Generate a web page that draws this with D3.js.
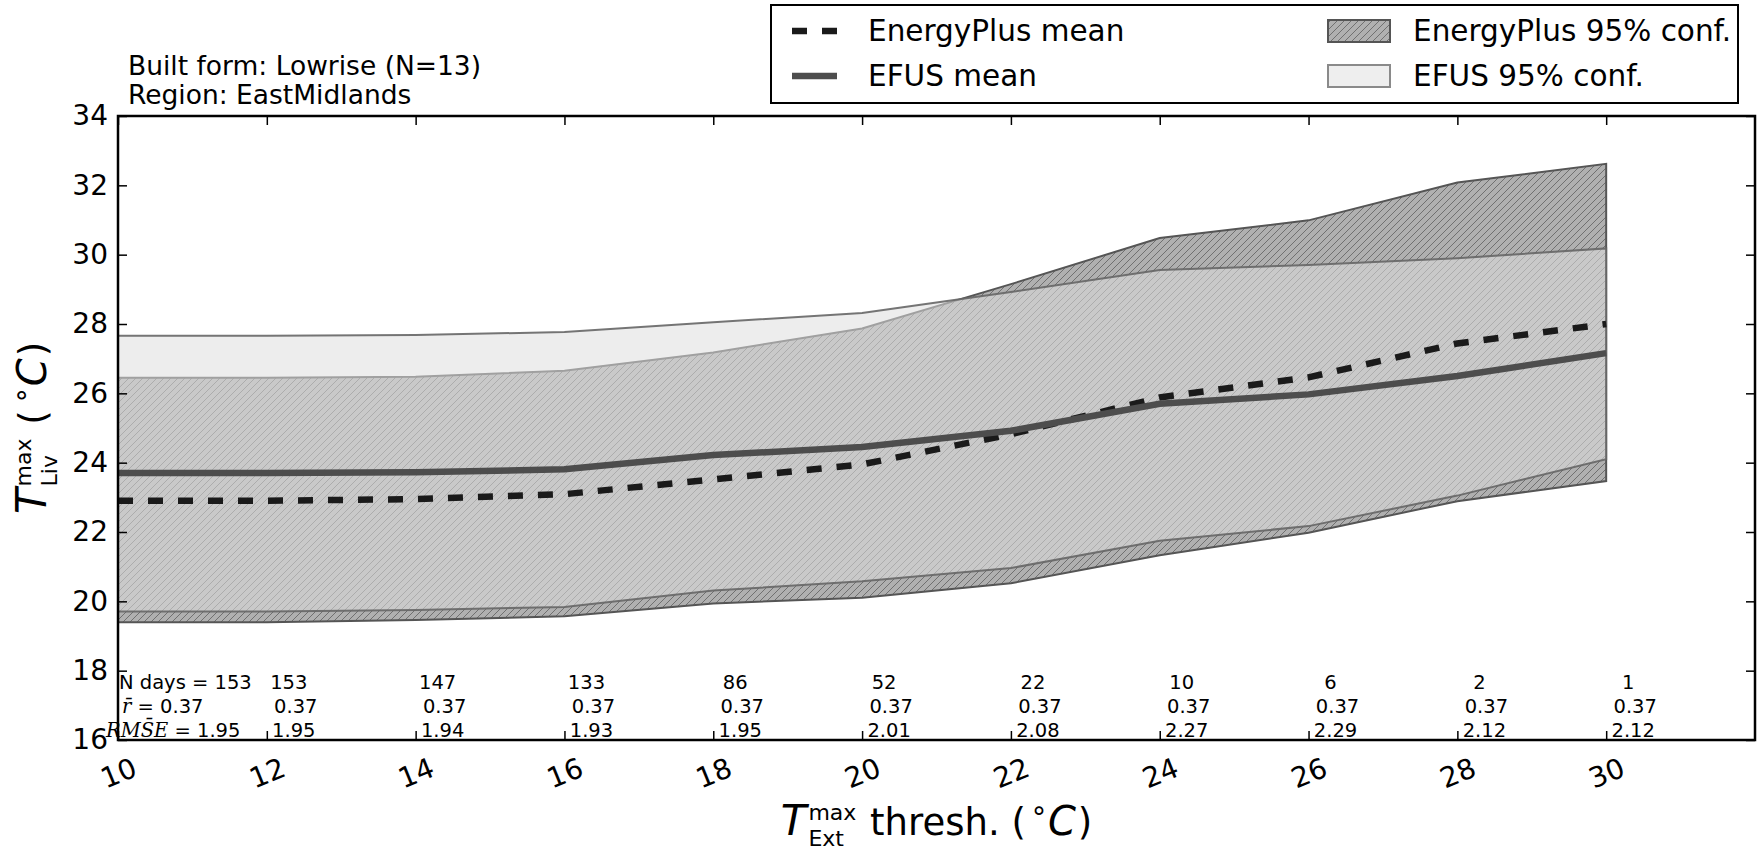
<!DOCTYPE html>
<html>
<head>
<meta charset="utf-8">
<script src="https://cdn.jsdelivr.net/npm/d3@7"></script>
<style>
  body { margin: 0; background: #fff; }
  text { font-family: "DejaVu Sans", sans-serif; fill: #000; }
</style>
</head>
<body>
<div id="viz"></div>
<script>
// data
const thresholds = [10, 12, 14, 16, 18, 20, 22, 24, 26, 28, 30];
const epMean   = [22.90, 22.90, 22.95, 23.09, 23.52, 23.95, 24.82, 25.88, 26.46, 27.44, 28.00];
const epLow    = [19.40, 19.40, 19.46, 19.57, 19.94, 20.10, 20.52, 21.33, 21.98, 22.89, 23.47];
const epHigh   = [26.45, 26.45, 26.48, 26.65, 27.18, 27.87, 29.15, 30.48, 30.99, 32.08, 32.62];
const efusMean = [23.70, 23.70, 23.72, 23.81, 24.22, 24.45, 24.92, 25.70, 25.97, 26.50, 27.16];
const efusLow  = [19.71, 19.71, 19.75, 19.84, 20.31, 20.58, 20.96, 21.75, 22.17, 23.05, 24.10];
const efusHigh = [27.66, 27.66, 27.68, 27.77, 28.05, 28.32, 28.92, 29.56, 29.70, 29.90, 30.18];
const nDays = [153, 153, 147, 133, 86, 52, 22, 10, 6, 2, 1];
const rBar  = [0.37, 0.37, 0.37, 0.37, 0.37, 0.37, 0.37, 0.37, 0.37, 0.37, 0.37];
const rmse  = [1.95, 1.95, 1.94, 1.93, 1.95, 2.01, 2.08, 2.27, 2.29, 2.12, 2.12];
const xTicks = [10, 12, 14, 16, 18, 20, 22, 24, 26, 28, 30];
const yTicks = [16, 18, 20, 22, 24, 26, 28, 30, 32, 34];

const svg = d3.select('#viz')
    .append('svg')
    .attr('width', 1758)
    .attr('height', 850);

const margin = {top: 116, right: 3, bottom: 110, left: 118},
    width = 1758 - margin.left - margin.right,
    height = 850 - margin.top - margin.bottom;

const x = d3.scaleLinear().domain([10, 32]).range([0, width]);
const y = d3.scaleLinear().domain([16, 34]).range([height, 0]);

// hatch for the EnergyPlus band
const defs = svg.append('defs');
const hatch = defs.append('pattern')
    .attr('id', 'hatch')
    .attr('patternUnits', 'userSpaceOnUse')
    .attr('width', 7).attr('height', 7);
hatch.append('rect').attr('width', 7).attr('height', 7).attr('fill', '#b0b0b0');
hatch.append('path')
    .attr('d', 'M-1,1 l2,-2 M0,7 l7,-7 M6,8 l2,-2')
    .attr('stroke', '#707070').attr('stroke-width', 1);

const g = svg.append('g')
    .attr('transform', 'translate(' + margin.left + ',' + margin.top + ')');

const idx = d3.range(thresholds.length);
const band = (lo, hi) => d3.area()
    .x(i => x(thresholds[i]))
    .y0(i => y(lo[i]))
    .y1(i => y(hi[i]));

// EnergyPlus 95% conf.
g.append('path')
    .datum(idx)
    .attr('d', band(epLow, epHigh))
    .attr('fill', 'url(#hatch)')
    .attr('stroke', '#555')
    .attr('stroke-width', 2);

// EFUS 95% conf. (semi transparent, on top)
g.append('path')
    .datum(idx)
    .attr('d', band(efusLow, efusHigh))
    .attr('fill', '#dfdfdf')
    .attr('fill-opacity', 0.55)
    .attr('stroke', '#666')
    .attr('stroke-opacity', 0.9)
    .attr('stroke-width', 2);

const line = vals => d3.line()
    .x(i => x(thresholds[i]))
    .y(i => y(vals[i]));

g.append('path')
    .datum(idx)
    .attr('d', line(epMean))
    .attr('fill', 'none')
    .attr('stroke', '#1a1a1a')
    .attr('stroke-width', 6.5)
    .attr('stroke-dasharray', '15,15');

g.append('path')
    .datum(idx)
    .attr('d', line(efusMean))
    .attr('fill', 'none')
    .attr('stroke', '#4d4d4d')
    .attr('stroke-width', 6.5);

// axes, ticks pointing inward
const xAxis = g.append('g')
    .attr('transform', 'translate(0,' + height + ')')
    .call(d3.axisBottom(x).tickValues(xTicks).tickSizeInner(-9).tickSizeOuter(0).tickPadding(0));
xAxis.selectAll('text')
    .attr('y', 0).attr('dy', '0.35em')
    .attr('transform', 'translate(0,33) rotate(-22)')
    .style('text-anchor', 'middle');

g.append('g')
    .call(d3.axisTop(x).tickValues(xTicks).tickSizeInner(-9).tickSizeOuter(0).tickFormat(''));

g.append('g')
    .call(d3.axisLeft(y).tickValues(yTicks).tickSizeInner(-9).tickSizeOuter(0).tickPadding(10));

g.append('g')
    .attr('transform', 'translate(' + width + ',0)')
    .call(d3.axisRight(y).tickValues(yTicks).tickSizeInner(-9).tickSizeOuter(0).tickFormat(''));

g.selectAll('.domain').remove();
g.selectAll('.tick line').attr('stroke', '#000').attr('stroke-width', 1.5);
g.selectAll('.tick text').attr('font-size', 28).attr('font-family', '"DejaVu Sans", sans-serif').attr('fill', '#000');

g.append('rect')
    .attr('width', width).attr('height', height)
    .attr('fill', 'none').attr('stroke', '#000').attr('stroke-width', 2.5);

// per-threshold annotations along the bottom
const ann = g.append('g').attr('font-size', 19.5);
thresholds.forEach((t, i) => {
    if (i === 0) {
        ann.append('text').attr('x', x(t) + 1).attr('y', height - 51).text('N days = ' + nDays[i]);
        const r = ann.append('text').attr('x', x(t) + 4).attr('y', height - 27);
        r.append('tspan').attr('font-family', '"DejaVu Serif", serif').attr('font-style', 'italic').text('r\u0304');
        r.append('tspan').text(' = ' + rBar[i].toFixed(2));
        const e = ann.append('text').attr('x', x(t) - 12).attr('y', height - 3);
        e.append('tspan').attr('font-family', '"DejaVu Serif", serif').attr('font-style', 'italic').text('RMS\u0304E');
        e.append('tspan').text(' = ' + rmse[i].toFixed(2));
    } else {
        ann.append('text').attr('x', x(t) + 22).attr('y', height - 51)
            .attr('text-anchor', 'middle').text(nDays[i]);
        ann.append('text').attr('x', x(t) + 29).attr('y', height - 27)
            .attr('text-anchor', 'middle').text(rBar[i].toFixed(2));
        ann.append('text').attr('x', x(t) + 27).attr('y', height - 3)
            .attr('text-anchor', 'middle').text(rmse[i].toFixed(2));
    }
});

// title lines
svg.append('text').attr('x', 128).attr('y', 75).attr('font-size', 26.5).text('Built form: Lowrise (N=13)');
svg.append('text').attr('x', 128).attr('y', 104).attr('font-size', 26.5).text('Region: EastMidlands');

// math-like axis labels built from pieces
function mathLabel(parent, pieces) {
    const lab = parent.append('g');
    let cx = 0;
    pieces.forEach(p => {
        if (p.stack) {
            const w = [];
            p.stack.forEach(s => {
                const t = lab.append('text').attr('x', cx).attr('y', s.dy)
                    .attr('font-size', s.size).attr('font-family', '"DejaVu Serif", serif')
                    .text(s.text);
                w.push(t.node().getComputedTextLength());
            });
            cx += d3.max(w) + (p.gap || 0);
        } else {
            const t = lab.append('text').attr('x', cx).attr('y', p.dy || 0)
                .attr('font-size', p.size)
                .attr('font-family', p.serif ? '"DejaVu Serif", serif' : '"DejaVu Sans", sans-serif')
                .attr('font-style', p.italic ? 'italic' : 'normal')
                .attr('xml:space', 'preserve')
                .text(p.text);
            cx += t.node().getComputedTextLength() + (p.gap || 0);
        }
    });
    return {node: lab, w: cx};
}

const xl = mathLabel(svg, [
    {text: 'T', size: 42, serif: true, italic: true, gap: 2},
    {stack: [{text: 'max', size: 22, dy: -15}, {text: 'Ext', size: 22, dy: 11}], gap: 2},
    {text: ' thresh. (', size: 37, gap: 6},
    {text: '\u00b0', size: 28, serif: true, dy: -8, gap: 2},
    {text: 'C', size: 40, serif: true, italic: true, gap: 2},
    {text: ')', size: 37}
]);
xl.node.attr('transform', 'translate(' + (margin.left + width / 2 - xl.w / 2) + ',835)');

const yl = mathLabel(svg, [
    {text: 'T', size: 42, serif: true, italic: true, gap: 2},
    {stack: [{text: 'max', size: 22, dy: -15}, {text: 'Liv', size: 22, dy: 11}], gap: 2},
    {text: ' (', size: 37, gap: 8},
    {text: '\u00b0', size: 28, serif: true, dy: -8, gap: 2},
    {text: 'C', size: 40, serif: true, italic: true, gap: 2},
    {text: ')', size: 37}
]);
yl.node.attr('transform', 'translate(46,' + (margin.top + height / 2 + yl.w / 2) + ') rotate(-90)');

// legend
const leg = svg.append('g');
leg.append('rect').attr('x', 771).attr('y', 5).attr('width', 967).attr('height', 98)
    .attr('fill', '#fff').attr('stroke', '#000').attr('stroke-width', 2);
const legItems = [
    {label: 'EnergyPlus mean', kind: 'dash', lx: 792, ly: 31},
    {label: 'EFUS mean', kind: 'solid', lx: 792, ly: 76},
    {label: 'EnergyPlus 95% conf.', kind: 'hatch', lx: 1328, ly: 31},
    {label: 'EFUS 95% conf.', kind: 'light', lx: 1328, ly: 76}
];
legItems.forEach(d => {
    if (d.kind === 'dash' || d.kind === 'solid') {
        leg.append('line').attr('x1', d.lx).attr('x2', d.lx + 45).attr('y1', d.ly).attr('y2', d.ly)
            .attr('stroke', d.kind === 'dash' ? '#1a1a1a' : '#4d4d4d')
            .attr('stroke-width', 6.5)
            .attr('stroke-dasharray', d.kind === 'dash' ? '15,15' : null);
        leg.append('text').attr('x', 868).attr('y', d.ly + 10).attr('font-size', 29.5).text(d.label);
    } else {
        leg.append('rect').attr('x', d.lx).attr('y', d.ly - 11).attr('width', 62).attr('height', 22)
            .attr('fill', d.kind === 'hatch' ? 'url(#hatch)' : '#eeeeee')
            .attr('stroke', d.kind === 'hatch' ? '#555' : '#8a8a8a')
            .attr('stroke-width', 2);
        leg.append('text').attr('x', 1413).attr('y', d.ly + 10).attr('font-size', 29.5).text(d.label);
    }
});
</script>
</body>
</html>
